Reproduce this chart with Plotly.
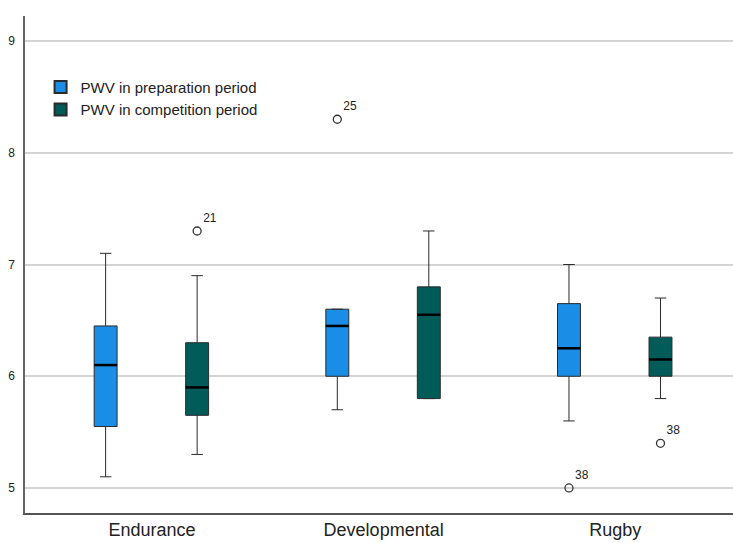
import plotly.graph_objects as go

# Groups and per-period PWV summary statistics (five-number summaries)
groups = ["Endurance", "Developmental", "Rugby"]

prep_low = [5.1, 5.7, 5.6]
prep_q1 = [5.55, 6.0, 6.0]
prep_median = [6.1, 6.45, 6.25]
prep_q3 = [6.45, 6.6, 6.65]
prep_high = [7.1, 6.6, 7.0]

comp_low = [5.3, 5.8, 5.8]
comp_q1 = [5.65, 5.8, 6.0]
comp_median = [5.9, 6.55, 6.15]
comp_q3 = [6.3, 6.8, 6.35]
comp_high = [6.9, 7.3, 6.7]

# Outlying cases: group index, value, case id
prep_out_group = [1, 2]
prep_out_value = [8.3, 5.0]
prep_out_case = ["25", "38"]

comp_out_group = [0, 2]
comp_out_value = [7.3, 5.4]
comp_out_case = ["21", "38"]

BLUE = "#1a8de6"
TEAL = "#015b59"
EDGE = "#2b2b2b"
FONT = "Liberation Sans, Arial, sans-serif"

OFFSET = 0.2
BOX_W = 0.099
MED_HALF = BOX_W / 2

fig = go.Figure()


def add_series(offset, low, q1, med, q3, high, color, out_g, out_v, out_c, name):
    xs = [i + offset for i in range(len(groups))]
    fig.add_trace(go.Box(
        x=xs, lowerfence=low, q1=q1, median=med, q3=q3, upperfence=high,
        width=BOX_W, whiskerwidth=0.5, fillcolor=color,
        line=dict(color=EDGE, width=1), boxpoints=False,
        showlegend=False, hoverinfo="skip",
    ))
    # heavier median bars on top of each box
    mx, my = [], []
    for x, m in zip(xs, med):
        mx += [x - MED_HALF, x + MED_HALF, None]
        my += [m, m, None]
    fig.add_trace(go.Scatter(
        x=mx, y=my, mode="lines", line=dict(color="black", width=2.5),
        showlegend=False, hoverinfo="skip",
    ))
    # outliers labelled with case numbers
    fig.add_trace(go.Scatter(
        x=[g + offset for g in out_g], y=out_v, mode="markers+text",
        text=out_c, textposition="top right",
        textfont=dict(family=FONT, size=12, color="#222"),
        marker=dict(symbol="circle-open", size=8, color="#333",
                    line=dict(width=1.3)),
        showlegend=False, hoverinfo="skip",
    ))
    # legend swatch
    fig.add_trace(go.Scatter(
        x=[None], y=[None], mode="markers", name=name,
        marker=dict(symbol="square", size=15, color=color,
                    line=dict(color=EDGE, width=1)),
    ))


add_series(-OFFSET, prep_low, prep_q1, prep_median, prep_q3, prep_high,
           BLUE, prep_out_group, prep_out_value, prep_out_case,
           "PWV in preparation period")
add_series(OFFSET - 0.005, comp_low, comp_q1, comp_median, comp_q3, comp_high,
           TEAL, comp_out_group, comp_out_value, comp_out_case,
           "PWV in competition period")

fig.update_layout(
    width=733, height=543,
    margin=dict(l=25, r=0, t=16, b=30),
    paper_bgcolor="white", plot_bgcolor="white",
    font=dict(family=FONT, color="#222"),
    showlegend=True,
    legend=dict(
        x=0.022, y=0.89, xanchor="left", yanchor="top",
        bgcolor="rgba(0,0,0,0)", font=dict(family=FONT, size=15, color="#222"),
        tracegroupgap=0, itemsizing="constant",
    ),
    xaxis=dict(
        range=[-0.548, 2.508], tickvals=[0, 1, 2], ticktext=groups,
        showgrid=False, zeroline=False, showline=True, linecolor="#555",
        linewidth=1.5, ticks="", tickfont=dict(family=FONT, size=18, color="#222"),
        fixedrange=True,
    ),
    yaxis=dict(
        range=[4.776, 9.224], tickvals=[5, 6, 7, 8, 9],
        showgrid=True, gridcolor="#d4d4d4", gridwidth=1.5,
        zeroline=False, showline=True, linecolor="#666", linewidth=1.5,
        ticks="", ticklabelstandoff=6,
        tickfont=dict(family=FONT, size=12, color="#222"),
        fixedrange=True,
    ),
)

fig.write_html("out.html")
